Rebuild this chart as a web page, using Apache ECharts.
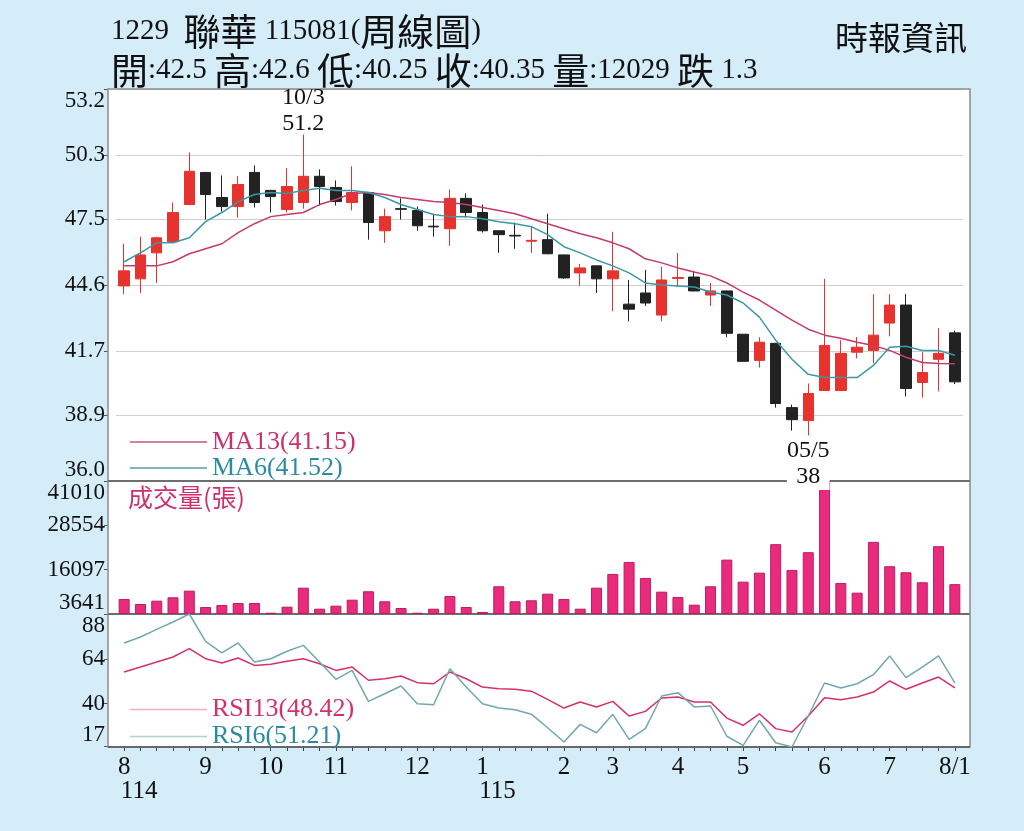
<!DOCTYPE html>
<html>
<head>
<meta charset="utf-8">
<title>1229 聯華 周線圖</title>
<script src="https://cdn.jsdelivr.net/npm/echarts@6/dist/echarts.min.js"></script>
<style>
  html, body { margin: 0; padding: 0; background: #d5edf9; }
  #chart { width: 1024px; height: 831px; }
</style>
</head>
<body>
<div id="chart"></div>
<script>
// Weekly categories (year/month-week)
const weeks = [
  "114/08-1", "114/08-2", "114/08-3", "114/08-4", "114/08-5",
  "114/09-1", "114/09-2", "114/09-3", "114/09-4",
  "114/10-1", "114/10-2", "114/10-3", "114/10-4",
  "114/11-1", "114/11-2", "114/11-3", "114/11-4", "114/11-5",
  "114/12-1", "114/12-2", "114/12-3", "114/12-4",
  "115/01-1", "115/01-2", "115/01-3", "115/01-4", "115/01-5",
  "115/02-1", "115/02-2", "115/02-3",
  "115/03-1", "115/03-2", "115/03-3", "115/03-4",
  "115/04-1", "115/04-2", "115/04-3", "115/04-4",
  "115/05-1", "115/05-2", "115/05-3", "115/05-4", "115/05-5",
  "115/06-1", "115/06-2", "115/06-3", "115/06-4",
  "115/07-1", "115/07-2", "115/07-3", "115/07-4",
  "115/08-1"
];

// [open, close, low, high]
const ohlc = [
  [44.56, 45.22, 44.20, 46.41], [44.87, 45.92, 44.25, 46.72], [46.01, 46.67, 44.69, 46.72],
  [46.50, 47.78, 46.45, 48.22], [48.13, 49.59, 48.10, 50.42], [49.54, 48.57, 47.47, 49.56],
  [48.44, 48.04, 47.82, 49.41], [48.04, 49.01, 47.56, 49.37], [49.54, 48.22, 48.00, 49.85],
  [48.75, 48.48, 47.78, 48.78], [47.91, 48.92, 47.78, 49.72], [48.22, 49.37, 47.95, 51.20],
  [49.37, 48.92, 48.09, 49.67], [48.88, 48.26, 48.09, 49.19], [48.22, 48.66, 47.87, 49.81],
  [48.66, 47.34, 46.59, 48.68], [46.98, 47.60, 46.45, 47.95], [47.95, 47.92, 47.47, 48.40],
  [47.87, 47.20, 46.98, 48.04], [47.18, 47.15, 46.72, 47.73], [47.07, 48.40, 46.32, 48.79],
  [48.40, 47.78, 47.56, 48.62], [47.78, 46.98, 46.90, 48.13], [46.98, 46.81, 46.01, 47.00],
  [46.78, 46.75, 46.19, 47.34], [46.52, 46.56, 46.01, 47.16], [46.59, 45.97, 45.95, 47.73],
  [45.92, 44.91, 44.87, 45.93], [45.13, 45.35, 44.56, 45.53], [45.44, 44.87, 44.25, 45.46],
  [44.87, 45.22, 43.45, 46.94], [43.76, 43.54, 43.01, 44.82], [44.25, 43.81, 43.68, 45.26],
  [43.28, 44.82, 43.01, 45.40], [44.89, 44.93, 44.51, 46.01], [44.95, 44.34, 44.32, 45.22],
  [44.16, 44.34, 43.68, 44.69], [44.34, 42.48, 42.31, 44.36], [42.44, 41.25, 41.22, 42.45],
  [41.29, 42.09, 40.98, 42.31], [42.04, 39.40, 39.22, 42.06], [39.22, 38.69, 38.21, 39.35],
  [38.65, 39.84, 38.00, 40.28], [39.97, 41.95, 39.95, 44.87], [39.97, 41.60, 39.95, 42.18],
  [41.65, 41.87, 41.38, 42.31], [41.73, 42.40, 41.16, 44.20], [42.93, 43.72, 42.35, 44.20],
  [43.72, 40.06, 39.71, 44.20], [40.32, 40.76, 39.66, 41.65], [41.34, 41.60, 39.93, 42.70],
  [42.50, 40.35, 40.25, 42.60]
];

const ma13 = [
  45.44, 45.44, 45.44, 45.62, 45.97, 46.19, 46.41, 46.90, 47.29, 47.60,
  47.69, 47.78, 48.13, 48.35, 48.62, 48.66, 48.57, 48.44, 48.35, 48.26,
  48.22, 48.13, 48.00, 47.87, 47.73, 47.51, 47.29, 47.07, 46.85, 46.67,
  46.45, 46.19, 45.75, 45.57, 45.35, 45.17, 45.00, 44.69, 44.29, 43.94,
  43.50, 43.06, 42.66, 42.40, 42.26, 42.09, 41.95, 41.73, 41.43, 41.20,
  41.16, 41.15
];

const ma6 = [
  45.62, 46.01, 46.45, 46.45, 46.67, 47.38, 47.78, 48.26, 48.57, 48.66,
  48.62, 48.75, 48.84, 48.75, 48.75, 48.66, 48.44, 48.13, 47.91, 47.69,
  47.60, 47.60, 47.51, 47.38, 47.29, 47.16, 46.81, 46.28, 46.01, 45.70,
  45.44, 45.13, 44.69, 44.60, 44.56, 44.51, 44.29, 44.16, 43.81, 43.19,
  42.18, 41.34, 40.68, 40.54, 40.54, 40.54, 41.07, 41.87, 41.91, 41.73,
  41.73, 41.52
];

// 成交量 (張)
const volume = [
  7862, 6455, 7384, 8340, 10198, 5611, 6174, 6736, 6736, 4007,
  5695, 11042, 5132, 5977, 7665, 10029, 7215, 5329, 4007, 5132,
  8706, 5611, 4204, 11436, 7215, 7496, 9353, 7862, 5132, 11042,
  14897, 18274, 13771, 9916, 8425, 6258, 11436, 18921, 12730, 15263,
  23255, 16023, 21003, 41010, 12364, 9635, 23902, 17064, 15375, 12561,
  22692, 12029
];

const rsi13 = [
  57.0, 59.7, 62.4, 65.1, 69.6, 64.2, 61.9, 64.6, 60.6, 61.2,
  62.8, 64.2, 61.5, 57.9, 59.7, 52.6, 53.4, 54.9, 51.3, 50.7,
  57.0, 53.4, 48.9, 48.0, 47.7, 46.7, 42.3, 37.6, 40.9, 38.2,
  41.2, 33.3, 35.8, 43.0, 43.6, 40.9, 40.9, 32.2, 28.3, 34.5,
  26.5, 24.7, 33.3, 43.2, 42.1, 43.6, 46.2, 52.2, 47.7, 51.1,
  54.3, 48.42
];

const rsi6 = [
  72.7, 75.9, 80.0, 84.0, 88.3, 73.6, 67.4, 72.7, 62.4, 64.2,
  68.2, 71.4, 62.4, 53.1, 57.9, 41.2, 45.3, 49.5, 39.9, 39.4,
  58.8, 48.9, 39.9, 37.6, 36.7, 34.3, 27.0, 19.3, 28.8, 24.3,
  34.2, 20.7, 26.5, 44.1, 45.9, 38.2, 38.7, 22.4, 17.5, 31.0,
  18.9, 16.6, 33.3, 51.1, 48.4, 50.7, 55.6, 65.7, 54.0, 59.7,
  65.7, 51.21
];

// Tick labels
const priceTicks = [36.0, 38.9, 41.7, 44.6, 47.5, 50.3, 53.2];
const volumeTicks = [3641, 16097, 28554, 41010];
const rsiTicks = [17, 40, 64, 88];
const monthTicks = {
  "114/08-1": "8\n114", "114/09-1": "9", "114/10-1": "10", "114/11-1": "11",
  "114/12-1": "12", "115/01-1": "1\n115", "115/02-1": "2", "115/03-1": "3",
  "115/04-1": "4", "115/05-1": "5", "115/06-1": "6", "115/07-1": "7",
  "115/08-1": "8/1"
};
const extremeDates = { high: "10/3", low: "05/5" };

const titleLine1 = "1229  聯華 115081(周線圖)";
const titleLine2 = "開:42.5 高:42.6 低:40.25 收:40.35 量:12029 跌 1.3";
const source = "時報資訊";

const SERIF = "'Liberation Serif', 'Noto Sans CJK TC', serif";
const CJK = "'Noto Sans CJK TC', sans-serif";

const RED = "#e8322e";
const BLACK = "#222222";
const MA13_COLOR = "#c43a6d";
const MA6_COLOR = "#3a98a8";
const VOL_COLOR = "#ea2a7c";
const RSI13_COLOR = "#d4306c";
const RSI6_COLOR = "#71a8ad";

// Mixed CJK / latin text: CJK glyphs drawn a little bigger
function mixed(str) {
  return str.replace(/([\u3400-\u9fff]+)|([^\u3400-\u9fff]+)/g, function (m, c, a) {
    return c ? "{c|" + c + "}" : "{a|" + a + "}";
  });
}

const headRich = {
  a: { fontFamily: SERIF, fontSize: 29, fontWeight: "normal", color: "#111" },
  c: { fontFamily: CJK, fontSize: 37, fontWeight: "normal", color: "#111" }
};

const last = (arr) => arr[arr.length - 1].toFixed(2);
const lastValues = { MA13: last(ma13), MA6: last(ma6), RSI13: last(rsi13), RSI6: last(rsi6) };

const chart = echarts.init(document.getElementById("chart"));

const grids = [
  { left: 116, right: 61, top: 89, height: 392 },
  { left: 116, right: 61, top: 481, height: 133 },
  { left: 116, right: 61, top: 614, height: 133 }
];

function hiddenX(gridIndex) {
  return {
    type: "category", gridIndex: gridIndex, data: weeks, boundaryGap: true,
    axisLine: { show: false }, axisTick: { show: false }, axisLabel: { show: false },
    splitLine: { show: false }
  };
}

function leftAxis(gridIndex, min, max, ticks, fmt, extra) {
  return Object.assign({
    type: "value", gridIndex: gridIndex, min: min, max: max, position: "left", offset: 8,
    axisLine: { show: false },
    axisTick: { show: true, customValues: ticks, length: 4, lineStyle: { color: "#555" } },
    axisLabel: {
      customValues: ticks, formatter: fmt, margin: 3,
      color: "#111", fontSize: 23, fontFamily: SERIF,
      verticalAlignMinLabel: "bottom", verticalAlignMaxLabel: "top"
    },
    splitLine: { show: false }
  }, extra || {});
}

const option = {
  backgroundColor: "#d5edf9",
  animation: false,
  title: [
    {
      text: mixed(titleLine1), left: 106, top: 8,
      textStyle: { fontWeight: "normal", rich: headRich }
    },
    {
      text: mixed(titleLine2), left: 106, top: 47,
      textStyle: { fontWeight: "normal", rich: headRich }
    },
    {
      text: source, right: 52, top: 16,
      textStyle: { fontFamily: CJK, fontSize: 33, fontWeight: "normal", color: "#111" }
    },
    {
      text: "成交量(張)", left: 123, top: 480,
      textStyle: { fontFamily: CJK, fontSize: 25, fontWeight: "normal", color: "#d0306a" }
    }
  ],
  legend: [
    {
      left: 125, top: 424, orient: "vertical", itemGap: 0, itemWidth: 77, itemHeight: 1.5,
      icon: "rect", selectedMode: false,
      data: [
        { name: "MA13", itemStyle: { color: "#c9567f" }, textStyle: { color: "#c8336b" } },
        { name: "MA6", itemStyle: { color: "#4f9fad" }, textStyle: { color: "#2a8ca3" } }
      ],
      formatter: (name) => name + "(" + lastValues[name] + ")",
      textStyle: { fontSize: 26, fontFamily: SERIF, lineHeight: 25 }
    },
    {
      left: 125, top: 691, orient: "vertical", itemGap: 0, itemWidth: 77, itemHeight: 1.5,
      icon: "rect", selectedMode: false,
      data: [
        { name: "RSI13", itemStyle: { color: "#eab0c4" }, textStyle: { color: "#d4306c" } },
        { name: "RSI6", itemStyle: { color: "#b3cfd2" }, textStyle: { color: "#2a8ca3" } }
      ],
      formatter: (name) => name + "(" + lastValues[name] + ")",
      textStyle: { fontSize: 26, fontFamily: SERIF, lineHeight: 27 }
    }
  ],
  grid: grids,
  xAxis: [
    hiddenX(0),
    hiddenX(1),
    {
      type: "category", gridIndex: 2, data: weeks, boundaryGap: true,
      axisLine: { show: false },
      axisTick: { show: true, alignWithLabel: true, interval: 0, length: 4, lineStyle: { color: "#444" } },
      axisLabel: {
        interval: (index, value) => value in monthTicks,
        formatter: function (value) {
          const parts = monthTicks[value].split("\n");
          return parts.length > 1 ? "{m|" + parts[0] + "}\n{y|" + parts[1] + "}" : "{m|" + parts[0] + "}";
        },
        margin: 8,
        rich: {
          m: { fontFamily: SERIF, fontSize: 25, color: "#111", lineHeight: 24 },
          y: { fontFamily: SERIF, fontSize: 25, color: "#111", lineHeight: 24, padding: [0, 0, 0, 30] }
        }
      },
      splitLine: { show: false }
    }
  ],
  yAxis: [
    leftAxis(0, 36, 53.2, priceTicks, (v) => v.toFixed(1), {
      splitLine: { show: true, lineStyle: { color: "#cfcfcf", width: 1 } }
    }),
    leftAxis(1, 3641, 41010, volumeTicks, (v) => String(Math.round(v)), { startValue: 3641 }),
    leftAxis(2, 16.6, 88.3, rsiTicks, (v) => String(Math.round(v)))
  ],
  graphic: [
    { type: "rect", z: -1, silent: true, shape: { x: 108, y: 89, width: 862, height: 658 }, style: { fill: "#ffffff" } },
    { type: "rect", z: 1, silent: true, shape: { x: 108, y: 89, width: 862, height: 658 },
      style: { fill: "none", stroke: "#8c8c8c", lineWidth: 1.5 } },
    { type: "line", z: 1, silent: true, shape: { x1: 108, y1: 481, x2: 970, y2: 481 },
      style: { stroke: "#6e6e6e", lineWidth: 2 } },
    { type: "line", z: 1, silent: true, shape: { x1: 108, y1: 614, x2: 970, y2: 614 },
      style: { stroke: "#6e6e6e", lineWidth: 2 } },
    { type: "line", z: 1, silent: true, shape: { x1: 108, y1: 747, x2: 970, y2: 747 },
      style: { stroke: "#555", lineWidth: 1.5 } }
  ],
  series: [
    {
      name: "K", type: "candlestick", xAxisIndex: 0, yAxisIndex: 0, data: ohlc, barWidth: 11,
      itemStyle: { color: RED, color0: BLACK, borderColor: RED, borderColor0: BLACK, borderWidth: 1 },
      markPoint: {
        symbol: "circle", symbolSize: 1, itemStyle: { color: "rgba(0,0,0,0)" },
        data: [
          { type: "max", valueDim: "highest",
            label: { position: "top", distance: 0, offset: [0, 3],
              formatter: (p) => extremeDates.high + "\n" + String(p.value) } },
          { type: "min", valueDim: "lowest",
            label: { position: "bottom", distance: 2, backgroundColor: "#fff",
              formatter: (p) => extremeDates.low + "\n" + String(p.value) } }
        ],
        label: { show: true, color: "#111", fontSize: 24, fontFamily: SERIF, lineHeight: 26 }
      }
    },
    {
      name: "MA13", type: "line", xAxisIndex: 0, yAxisIndex: 0, data: ma13,
      showSymbol: false, lineStyle: { color: MA13_COLOR, width: 1.5 }, itemStyle: { color: MA13_COLOR }
    },
    {
      name: "MA6", type: "line", xAxisIndex: 0, yAxisIndex: 0, data: ma6,
      showSymbol: false, lineStyle: { color: MA6_COLOR, width: 1.5 }, itemStyle: { color: MA6_COLOR }
    },
    {
      name: "VOL", type: "bar", xAxisIndex: 1, yAxisIndex: 1, data: volume, barWidth: 11,
      itemStyle: { color: VOL_COLOR, borderColor: "#b8205f", borderWidth: 1 }
    },
    {
      name: "RSI13", type: "line", xAxisIndex: 2, yAxisIndex: 2, data: rsi13,
      showSymbol: false, lineStyle: { color: RSI13_COLOR, width: 1.5 }, itemStyle: { color: RSI13_COLOR }
    },
    {
      name: "RSI6", type: "line", xAxisIndex: 2, yAxisIndex: 2, data: rsi6,
      showSymbol: false, lineStyle: { color: RSI6_COLOR, width: 1.5 }, itemStyle: { color: RSI6_COLOR }
    }
  ]
};

chart.setOption(option);
</script>
</body>
</html>
